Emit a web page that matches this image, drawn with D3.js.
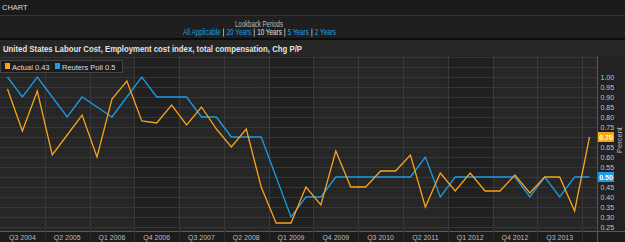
<!DOCTYPE html>
<html>
<head>
<meta charset="utf-8">
<script src="https://cdn.jsdelivr.net/npm/d3@7"></script>
<style>
  body { margin: 0; background: #262626; }
  text { font-family: "Liberation Sans", Arial, sans-serif; }
</style>
</head>
<body>
<div id="chart"></div>
<script>
// quarters on the x axis
const quarters = [
  "Q2 2004", "Q3 2004", "Q4 2004", "Q1 2005", "Q2 2005", "Q3 2005", "Q4 2005", "Q1 2006",
  "Q2 2006", "Q3 2006", "Q4 2006", "Q1 2007", "Q2 2007", "Q3 2007", "Q4 2007", "Q1 2008",
  "Q2 2008", "Q3 2008", "Q4 2008", "Q1 2009", "Q2 2009", "Q3 2009", "Q4 2009", "Q1 2010",
  "Q2 2010", "Q3 2010", "Q4 2010", "Q1 2011", "Q2 2011", "Q3 2011", "Q4 2011", "Q1 2012",
  "Q2 2012", "Q3 2012", "Q4 2012", "Q1 2013", "Q2 2013", "Q3 2013", "Q4 2013", "Q1 2014"
];
const tickLabels = ["Q3 2004", "Q2 2005", "Q1 2006", "Q4 2006", "Q3 2007", "Q2 2008", "Q1 2009",
  "Q4 2009", "Q3 2010", "Q2 2011", "Q1 2012", "Q4 2012", "Q3 2013"];
const gridStarts = ["Q1 2005", "Q4 2005", "Q3 2006", "Q2 2007", "Q1 2008", "Q4 2008", "Q3 2009",
  "Q2 2010", "Q1 2011", "Q4 2011", "Q3 2012", "Q2 2013", "Q1 2014"];
const shaded = [["Q3 2006", "Q2 2007"], ["Q4 2008", "Q3 2009"], ["Q4 2011", "Q3 2012"]];

const actual = [0.94, 0.73, 0.93, 0.61, 0.71, 0.81, 0.60, 0.89, 0.98, 0.78,
  0.77, 0.86, 0.76, 0.85, 0.74, 0.65, 0.74, 0.45, 0.27, 0.27,
  0.45, 0.36, 0.63, 0.45, 0.45, 0.53, 0.53, 0.61, 0.35, 0.52,
  0.43, 0.52, 0.43, 0.43, 0.51, 0.42, 0.50, 0.50, 0.33, 0.70];
const poll = [1.00, 0.90, 1.00, 0.90, 0.80, 0.90, 0.85, 0.80, 0.90, 1.00,
  0.90, 0.90, 0.90, 0.80, 0.80, 0.70, 0.70, 0.70, 0.50, 0.30,
  0.40, 0.40, 0.50, 0.50, 0.50, 0.50, 0.50, 0.50, 0.60, 0.40,
  0.50, 0.50, 0.50, 0.50, 0.50, 0.40, 0.50, 0.40, 0.50, 0.50];
const yTicks = d3.range(0.25, 1.101, 0.05);
const periods = ["All Applicable", "20 Years", "10 Years", "5 Years", "2 Years"];

const W = 625, H = 242;
const plot = {left: 0, right: 597, top: 56, bottom: 231};
const orange = "#f7a21b", blue = "#1b9ce3";

const svg = d3.select("#chart").append("svg")
    .attr("width", W).attr("height", H);

// header bands
svg.append("rect").attr("width", W).attr("height", 15).attr("fill", "#1b1b1b");
svg.append("rect").attr("y", 15).attr("width", W).attr("height", 24).attr("fill", "#1f1f1f");
svg.append("line").attr("x1", 0).attr("x2", W).attr("y1", 15.5).attr("y2", 15.5).attr("stroke", "#363636");
svg.append("rect").attr("y", 38).attr("width", W).attr("height", 2).attr("fill", "#0c0c0c");
svg.append("rect").attr("y", 40).attr("width", W).attr("height", 16).attr("fill", "#262626");

svg.append("text").attr("x", 2).attr("y", 10)
    .attr("fill", "#dcdcdc").attr("font-size", 7.5).text("CHART");

svg.append("text").attr("x", 259).attr("y", 26.5).attr("text-anchor", "middle")
    .attr("fill", "#bdbdbd").attr("font-size", 8.5)
    .attr("textLength", 48).attr("lengthAdjust", "spacingAndGlyphs").text("Lookback Periods");

// period links, laid out from measured widths, then squeezed to the narrow look
const links = svg.append("g");
const linkTexts = periods.map(p => links.append("text").attr("y", 35.5).attr("font-size", 8.5)
    .attr("fill", p === "10 Years" ? "#e0e0e0" : "#1d9fe0").text(p));
const gap = 8;
const widths = linkTexts.map(t => t.node().getComputedTextLength());
const total = d3.sum(widths) + gap * (widths.length - 1);
let cx = 0;
linkTexts.forEach((t, i) => {
  t.attr("x", cx);
  cx += widths[i];
  if (i < linkTexts.length - 1) {
    links.append("line").attr("x1", cx + gap / 2).attr("x2", cx + gap / 2)
        .attr("y1", 28.5).attr("y2", 36.5).attr("stroke", "#bbbbbb").attr("stroke-width", 1.2);
    cx += gap;
  }
});
const k = 153 / total;
links.attr("transform", `translate(183,0) scale(${k},1)`);

svg.append("text").attr("x", 3).attr("y", 51.5)
    .attr("fill", "#e2e2e2").attr("font-size", 9.5).attr("font-weight", "bold")
    .attr("textLength", 299).attr("lengthAdjust", "spacingAndGlyphs")
    .text("United States Labour Cost, Employment cost index, total compensation, Chg P/P");

// scales
const x = d3.scaleBand().domain(quarters).range([plot.left, plot.right]);
const xc = q => x(q) + x.bandwidth() / 2;
const y = d3.scaleLinear().domain([0.25, 1.0]).range([227, 77]);

// plot background + shading
svg.append("rect").attr("x", plot.left).attr("y", plot.top)
    .attr("width", plot.right - plot.left).attr("height", plot.bottom - plot.top).attr("fill", "#262626");
svg.append("g").selectAll("rect").data(shaded).join("rect")
    .attr("x", d => x(d[0])).attr("y", plot.top)
    .attr("width", d => x(d[1]) - x(d[0])).attr("height", plot.bottom - plot.top)
    .attr("fill", "#202020");

// gridlines
svg.append("g").selectAll("line").data(yTicks.filter(v => y(v) > plot.top)).join("line")
    .attr("x1", plot.left).attr("x2", plot.right)
    .attr("y1", d => Math.round(y(d)) + 0.5).attr("y2", d => Math.round(y(d)) + 0.5)
    .attr("stroke", "#363636");
svg.append("g").selectAll("line").data(gridStarts).join("line")
    .attr("x1", d => Math.round(x(d)) + 0.5).attr("x2", d => Math.round(x(d)) + 0.5)
    .attr("y1", plot.top).attr("y2", plot.bottom)
    .attr("stroke", "#393939");

// x axis strip
svg.append("rect").attr("x", 0).attr("y", plot.bottom).attr("width", W).attr("height", H - plot.bottom)
    .attr("fill", "#1d1d1d");
svg.append("line").attr("x1", 0).attr("x2", W).attr("y1", plot.bottom + 0.5).attr("y2", plot.bottom + 0.5)
    .attr("stroke", "#5a5a5a");
svg.append("g").selectAll("line").data(gridStarts).join("line")
    .attr("x1", d => Math.round(x(d)) + 0.5).attr("x2", d => Math.round(x(d)) + 0.5)
    .attr("y1", plot.bottom).attr("y2", H)
    .attr("stroke", "#2e2e2e");
svg.append("g").selectAll("text").data(tickLabels).join("text")
    .attr("x", d => xc(d)).attr("y", 239.5).attr("text-anchor", "middle")
    .attr("fill", "#bcbcbc").attr("font-size", 7).text(d => d);

// right axis
svg.append("rect").attr("x", plot.right).attr("y", plot.top).attr("width", W - plot.right)
    .attr("height", plot.bottom - plot.top).attr("fill", "#222222");
svg.append("line").attr("x1", plot.right + 0.5).attr("x2", plot.right + 0.5)
    .attr("y1", plot.top).attr("y2", H).attr("stroke", "#555555");
svg.append("g").selectAll("text").data(yTicks.filter(v => v <= 1.001)).join("text")
    .attr("x", 600.5).attr("y", d => y(d) + 2.5)
    .attr("fill", "#c4c4c4").attr("font-size", 7).text(d => d3.format(".2f")(d));
svg.append("text").attr("transform", "translate(622,140) rotate(-90)")
    .attr("text-anchor", "middle").attr("fill", "#bdbdbd").attr("font-size", 7.5).text("Percent");

// lines
const line = d3.line().x((d, i) => xc(quarters[i])).y(d => y(d));
svg.append("path").datum(poll).attr("d", line)
    .attr("fill", "none").attr("stroke", blue).attr("stroke-width", 1.3);
svg.append("path").datum(actual).attr("d", line)
    .attr("fill", "none").attr("stroke", orange).attr("stroke-width", 1.3);

// last value badges
[[actual, orange], [poll, blue]].forEach(([s, c]) => {
  const v = s[s.length - 1];
  svg.append("rect").attr("x", plot.right + 1).attr("y", y(v) - 5).attr("width", 16).attr("height", 10)
      .attr("fill", c);
  svg.append("text").attr("x", plot.right + 9).attr("y", y(v) + 2.6).attr("text-anchor", "middle")
      .attr("fill", "#ffffff").attr("font-size", 7).attr("font-weight", "bold").text(d3.format(".2f")(v));
});

// legend
const lg = svg.append("g");
lg.append("rect").attr("x", 0.5).attr("y", 60.5).attr("width", 122).attr("height", 12)
    .attr("fill", "#1c1c1c").attr("stroke", "#444444");
lg.append("rect").attr("x", 5).attr("y", 63).attr("width", 5).attr("height", 6).attr("fill", orange);
lg.append("text").attr("x", 12).attr("y", 69.5).attr("fill", "#dddddd").attr("font-size", 7.5).text("Actual 0.43");
lg.append("rect").attr("x", 55).attr("y", 63).attr("width", 5).attr("height", 6).attr("fill", blue);
lg.append("text").attr("x", 62).attr("y", 69.5).attr("fill", "#dddddd").attr("font-size", 7.5).text("Reuters Poll 0.5");
</script>
</body>
</html>
